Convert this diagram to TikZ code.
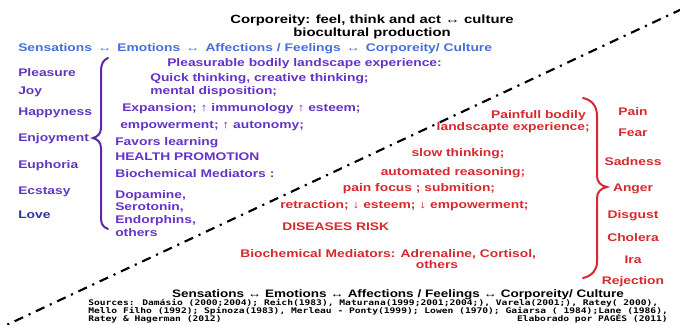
\documentclass[tikz,border=0pt]{standalone}
\usepackage{fontspec}
\setmainfont{Liberation Sans}[FakeStretch=1.25]
\newfontfamily\srcfont{DejaVu Sans Mono}[FakeStretch=1.245]
\definecolor{pleasurepurple}{RGB}{95,55,190}
\definecolor{lovedeep}{RGB}{45,50,160}
\definecolor{midpurple}{RGB}{100,50,200}
\definecolor{bracepurple}{RGB}{90,40,170}
\definecolor{headblue}{RGB}{70,110,220}
\definecolor{painred}{RGB}{215,40,45}
\newcommand{\twoway}{\,↔\,}
\begin{document}
\begin{tikzpicture}[x=0.75pt,y=-0.75pt,
  txt/.style={inner sep=0pt, font=\fontsize{8.3}{10}\selectfont\bfseries},
  lw/.style={txt, anchor=base west},
  ctr/.style={txt, anchor=base},
  re/.style={txt, anchor=base east},
  good/.style={text=midpurple},
  bad/.style={text=painred},
  joyword/.style={lw, text=pleasurepurple},
  sorrow/.style={ctr, text=painred},
  src/.style={inner sep=0pt, font=\srcfont\fontsize{5.8}{6}\selectfont\bfseries},
  divide/.style={line width=1.6pt, dash pattern=on 7pt off 4.5pt on 1.6pt off 4.5pt},
  brace/.style={line width=1.5pt, line cap=round}
]
\useasboundingbox (0,0) rectangle (680,324);
\clip (0,0) rectangle (680,324);

% diagonal divider between the pleasant and painful halves
\coordinate (divTop) at (682,9);
\coordinate (divBot) at (-2,329);
\draw[divide] (divTop) -- (divBot);

% heading
\node[ctr, font=\fontsize{8.9}{10}\selectfont\bfseries] (title1) at (372,24) {Corporeity: feel, think and act ↔ culture};
\node[ctr, font=\fontsize{8.9}{10}\selectfont\bfseries] (title2) at (372,37) {biocultural production};
\node[lw, text=headblue] (chainTop) at (18,52) {Sensations \twoway{} Emotions \twoway{} Affections / Feelings \twoway{} Corporeity/ Culture};

% pleasant emotions
\node[joyword] (pleasure) at (18,77) {Pleasure};
\node[joyword] (joy) at (18,95) {Joy};
\node[joyword] (happy) at (18,116) {Happyness};
\node[joyword] (enjoy) at (18,141) {Enjoyment};
\node[joyword] (euph) at (18,168) {Euphoria};
\node[joyword] (ecst) at (18,194) {Ecstasy};
\node[lw, text=lovedeep] (love) at (18,218) {Love};

\draw[brace, bracepurple] (108,58) .. controls (103,60) and (101,64) .. (101,72) -- (101,128)
  .. controls (101,134) and (97,137) .. (93,138) .. controls (97,139) and (101,142) .. (101,148)
  -- (101,218) .. controls (101,224) and (103,227) .. (108,229);

% pleasant effects
\node[lw, good] (g1) at (167,67) {Pleasurable bodily landscape experience:};
\node[lw, good] (g2) at (150,82) {Quick thinking, creative thinking;};
\node[lw, good] (g3) at (150,95) {mental disposition;};
\node[lw, good] (g4) at (122,112) {Expansion; ↑  immunology ↑ esteem;};
\node[lw, good] (g5) at (120,128) {empowerment; ↑ autonomy;};
\node[lw, good] (g6) at (115,145) {Favors learning};
\node[lw, good] (g7) at (115,160) {HEALTH PROMOTION};
\node[lw, good] (g8) at (115,177) {Biochemical Mediators  :};
\node[lw, good] (g9) at (115,198) {Dopamine,};
\node[lw, good] (g10) at (115,210) {Serotonin,};
\node[lw, good] (g11) at (115,223) {Endorphins,};
\node[lw, good] (g12) at (115,236) {others};

% painful effects
\node[re, bad] (b1) at (586,118) {Painfull bodily};
\node[re, bad] (b2) at (590,131) {landscapte experience;};
\node[ctr, bad] (b3) at (458,156) {slow thinking;};
\node[ctr, bad] (b4) at (453,175) {automated reasoning;};
\node[ctr, bad] (b5) at (419,191) {pain focus ; submition;};
\node[lw, bad] (b6) at (280,208) {retraction; ↓ esteem; ↓ empowerment;};
\node[lw, bad] (b7) at (282,230) {DISEASES RISK};
\node[lw, bad] (b8) at (240,257) {Biochemical Mediators: Adrenaline, Cortisol,};
\node[ctr, bad] (b9) at (437,268) {others};

\draw[brace, painred] (583,98) .. controls (592,100) and (597,106) .. (597,116) -- (597,176)
  .. controls (597,182) and (601,186) .. (607,187) .. controls (601,188) and (597,192) .. (597,198)
  -- (597,262) .. controls (597,270) and (592,276) .. (583,278);

% painful emotions
\node[sorrow] (pain) at (633,116) {Pain};
\node[sorrow] (fear) at (633,137) {Fear};
\node[sorrow] (sad) at (633,165) {Sadness};
\node[sorrow] (anger) at (633,191) {Anger};
\node[sorrow] (disg) at (633,218) {Disgust};
\node[sorrow] (chol) at (633,241) {Cholera};
\node[sorrow] (ira) at (633,263) {Ira};
\node[sorrow] (rej) at (633,284) {Rejection};

% footer
\node[ctr, font=\fontsize{8.1}{10}\selectfont\bfseries] (chainBot) at (398,297) {Sensations  ↔ Emotions ↔ Affections / Feelings ↔ Corporeity/ Culture};
\node[src, anchor=base west] (src1) at (88,305) {Sources: Damásio (2000;2004); Reich(1983), Maturana(1999;2001;2004;), Varela(2001;), Ratey( 2000),};
\node[src, anchor=base west] (src2) at (88,313) {Mello Filho (1992); Spinoza(1983), Merleau - Ponty(1999); Lowen (1970); Gaiarsa ( 1984);Lane (1986),};
\node[src, anchor=base west] (src3) at (88,321) {Ratey \& Hagerman (2012)};
\node[src, anchor=base east] (credit) at (668,321) {Elaborado por PAGÉS (2011)};
\end{tikzpicture}
\end{document}
